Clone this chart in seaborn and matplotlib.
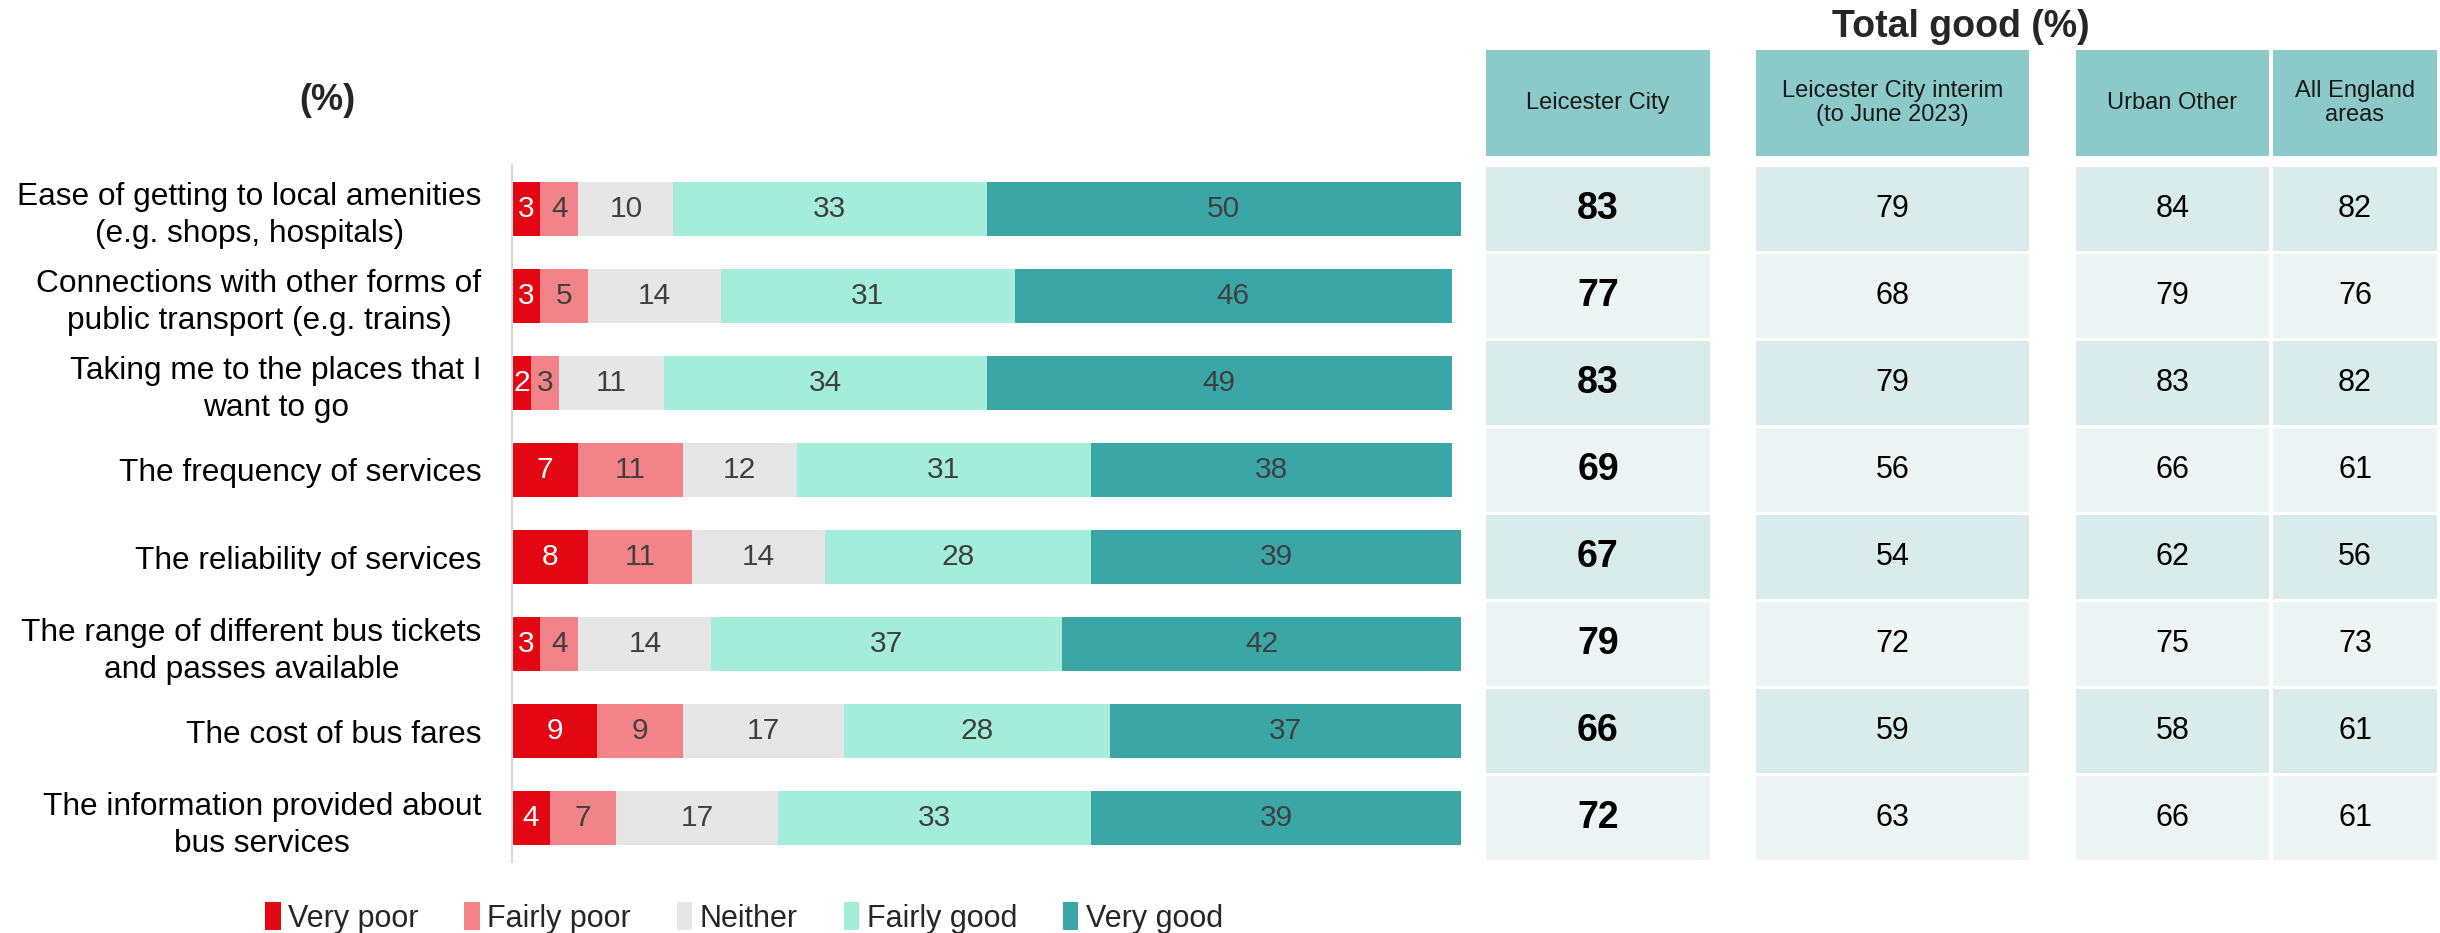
import matplotlib
matplotlib.use("Agg")
import matplotlib.pyplot as plt
from matplotlib.patches import Rectangle, Patch
import numpy as np
import pandas as pd
import seaborn as sns

# ---- data ----
items = [
    "Ease of getting to local amenities\n(e.g. shops, hospitals)",
    "Connections with other forms of\npublic transport (e.g. trains)",
    "Taking me to the places that I\nwant to go",
    "The frequency of services",
    "The reliability of services",
    "The range of different bus tickets\nand passes available",
    "The cost of bus fares",
    "The information provided about\nbus services",
]
categories = ["Very poor", "Fairly poor", "Neither", "Fairly good", "Very good"]
very_poor = [3, 3, 2, 7, 8, 3, 9, 4]
fairly_poor = [4, 5, 3, 11, 11, 4, 9, 7]
neither = [10, 14, 11, 12, 14, 14, 17, 17]
fairly_good = [33, 31, 34, 31, 28, 37, 28, 33]
very_good = [50, 46, 49, 38, 39, 42, 37, 39]

table_headers = ["Leicester City", "Leicester City interim\n(to June 2023)",
                 "Urban Other", "All England\nareas"]
lc_good = [83, 77, 83, 69, 67, 79, 66, 72]
interim_good = [79, 68, 79, 56, 54, 72, 59, 63]
urban_good = [84, 79, 83, 66, 62, 75, 58, 66]
england_good = [82, 76, 82, 61, 56, 73, 61, 61]

colors = ["#E30613", "#F28389", "#E6E6E6", "#A3EDDA", "#3BA6A6"]
text_colors = ["white", "#404040", "#404040", "#404040", "#404040"]

FONT = ["Liberation Sans", "DejaVu Sans"]
sns.set_theme(style="white")
plt.rcParams["font.family"] = FONT

W, H = 2440, 933
fig = plt.figure(figsize=(W / 100, H / 100), dpi=100)

def fx(px):
    return px / W

def fy(py):
    return 1 - py / H

# ---- stacked bar chart ----
ax = fig.add_axes([fx(512), fy(862), fx(1461) - fx(512), fy(165) - fy(862)])

series = [very_poor, fairly_poor, neither, fairly_good, very_good]
vals = np.array(series, dtype=float)
cums = np.cumsum(vals, axis=0)

df = pd.DataFrame({"item": items})
for k, cat in enumerate(categories):
    df[cat] = cums[k]

# draw cumulative totals from largest to smallest so segments stack
for k in range(len(categories) - 1, -1, -1):
    sns.barplot(data=df, x=categories[k], y="item", orient="h", color=colors[k],
                saturation=1, width=0.62, ax=ax, linewidth=0, order=items)

for k in range(len(categories)):
    for i in range(len(items)):
        v = vals[k, i]
        ax.text(cums[k, i] - v / 2, i, f"{int(v)}", ha="center", va="center",
                fontsize=21.5, color=text_colors[k])

ax.set_xlim(0, 100)
ax.set_ylim(7.5, -0.5)
ax.set_xlabel("")
ax.set_ylabel("")
ax.set_xticks([])
for s in ["top", "right", "bottom"]:
    ax.spines[s].set_visible(False)
ax.spines["left"].set_color("#D9D9D9")
ax.spines["left"].set_linewidth(1.5)
ax.tick_params(axis="y", length=0, pad=22, labelsize=22.8, labelcolor="black")
for lab in ax.get_yticklabels():
    lab.set_multialignment("center")
    lab.set_linespacing(1.3)

fig.text(fx(327), fy(101), "(%)", ha="center", va="center", fontsize=26,
         fontweight="bold")

# ---- legend ----
handles = [Patch(facecolor=c, edgecolor="none") for c in colors]
fig.legend(handles, categories, loc="center left", bbox_to_anchor=(fx(253), fy(918)),
           ncol=5, frameon=False, fontsize=22, handlelength=0.5, handleheight=1.0,
           handletextpad=0.25, columnspacing=1.5, borderaxespad=0)

# ---- summary table ----
tax = fig.add_axes([fx(1486), fy(862), fx(2440) - fx(1486), fy(40) - fy(862)])
tax.set_xlim(0, 954)
tax.set_ylim(7.5, -1.94)
tax.axis("off")

col_spans = [(0, 224), (270, 543), (590, 783), (787, 951)]
col_values = [lc_good, interim_good, urban_good, england_good]
header_color = "#8CC9C9"
row_colors = ["#D9EBEB", "#ECF5F4"]

for (x0, x1), head, values, j in zip(col_spans, table_headers, col_values, range(4)):
    tax.add_patch(Rectangle((x0, -1.82), x1 - x0, 1.215, facecolor=header_color,
                            edgecolor="none"))
    tax.text((x0 + x1) / 2, -1.215, head, ha="center", va="center", fontsize=17,
             color="#1A1A1A", multialignment="center", linespacing=1.15)
    for i, v in enumerate(values):
        tax.add_patch(Rectangle((x0, i - 0.482), x1 - x0, 0.964,
                                facecolor=row_colors[i % 2], edgecolor="none"))
        tax.text((x0 + x1) / 2, i, f"{v}", ha="center", va="center",
                 fontsize=27 if j == 0 else 22,
                 fontweight="bold" if j == 0 else "normal", color="black")

fig.text(fx(1961), fy(27), "Total good (%)", ha="center", va="center",
         fontsize=27, fontweight="bold")

fig.savefig("out.png", dpi=100, facecolor="white")
